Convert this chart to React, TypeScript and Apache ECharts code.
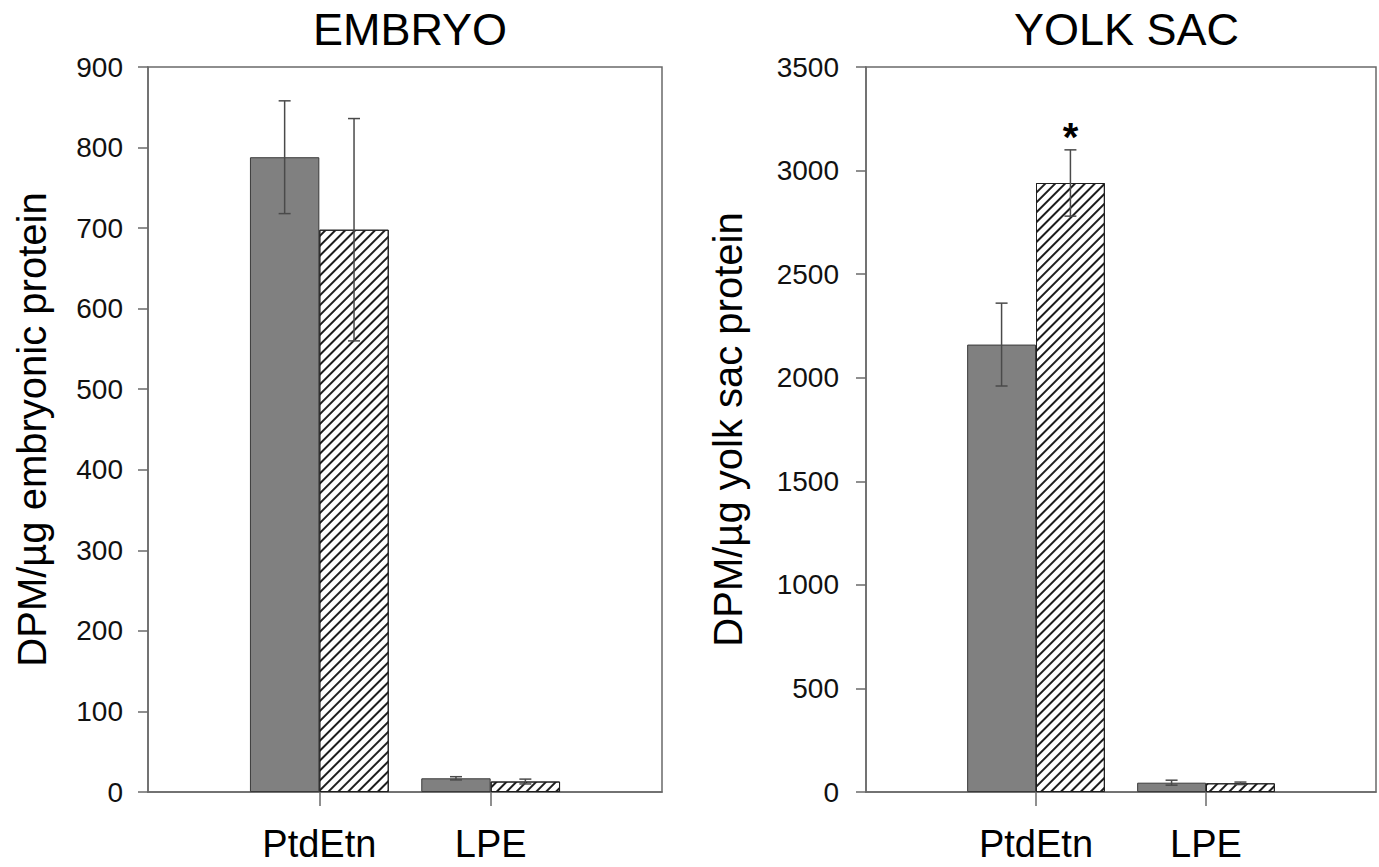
import React, { useEffect, useRef } from "react";
import * as echarts from "echarts";

// ---- data ----
const categories = ["", "PtdEtn", "LPE", ""];
const embryoControl = [null, 788, 17, null];
const embryoControlErr = [null, 70, 2, null];
const embryoTreated = [null, 698, 13, null];
const embryoTreatedErr = [null, 138, 3, null];
const yolkControl = [null, 2160, 45, null];
const yolkControlErr = [null, 200, 12, null];
const yolkTreated = [null, 2940, 42, null];
const yolkTreatedErr = [null, 160, 6, null];
const yolkTreatedSignif = ["", "*", "", ""];

const titles = ["EMBRYO", "YOLK SAC"];
const yNames = ["DPM/µg embryonic protein", "DPM/µg yolk sac protein"];
const yMax = [900, 3500];
const yStep = [100, 500];

const FONT = "'Liberation Sans', Arial, Helvetica, sans-serif";
const BAR_FRAC = 0.405;
const AXIS_COLOR = "#6a6a6a";

function errorSeries(
  gridIdx: number,
  means: (number | null)[],
  errs: (number | null)[],
  side: number,
  marks?: string[]
) {
  const data = means
    .map((m, i) => [i, m, errs[i]])
    .filter((d) => d[1] != null);
  return {
    type: "custom",
    xAxisIndex: gridIdx,
    yAxisIndex: gridIdx,
    data,
    z: 5,
    renderItem: (params: any, api: any) => {
      const i = api.value(0);
      const m = api.value(1);
      const e = api.value(2);
      const bw = api.size([1, 0])[0] * BAR_FRAC;
      const top = api.coord([i, m + e]);
      const bot = api.coord([i, m - e]);
      const x = top[0] + (side * bw) / 2;
      const cap = 6;
      const style = { stroke: "#4a4a4a", lineWidth: 1.5 };
      const children: any[] = [
        { type: "line", shape: { x1: x, y1: top[1], x2: x, y2: bot[1] }, style },
        { type: "line", shape: { x1: x - cap, y1: top[1], x2: x + cap, y2: top[1] }, style },
        { type: "line", shape: { x1: x - cap, y1: bot[1], x2: x + cap, y2: bot[1] }, style },
      ];
      const mk = marks ? marks[i] : "";
      if (mk) {
        children.push({
          type: "text",
          x: x,
          y: top[1] + 7,
          style: {
            text: mk,
            fill: "#000",
            font: `bold 40px ${FONT}`,
            textAlign: "center",
            textVerticalAlign: "bottom",
          },
        });
      }
      return { type: "group", children };
    },
  };
}

function barSeries(gridIdx: number, values: (number | null)[], hatched: boolean) {
  return {
    type: "bar",
    xAxisIndex: gridIdx,
    yAxisIndex: gridIdx,
    data: values.map((v) => (v == null ? "-" : v)),
    barWidth: `${BAR_FRAC * 100}%`,
    barGap: "0%",
    itemStyle: hatched
      ? {
          color: "#ffffff",
          borderColor: "#1e1e1e",
          borderWidth: 1,
          decal: {
            symbol: "rect",
            symbolSize: 1,
            dashArrayX: [1, 0],
            dashArrayY: [1.3, 4.2],
            rotation: -Math.PI / 4,
            color: "#1e1e1e",
          },
        }
      : { color: "#808080", borderColor: "#3a3a3a", borderWidth: 1 },
  };
}

export default function App() {
  const ref = useRef<HTMLDivElement>(null);
  useEffect(() => {
    if (!ref.current) return;
    const chart = echarts.init(ref.current, undefined, { renderer: "svg" });
    const grids = [
      { left: 148, top: 67, width: 514, height: 725 },
      { left: 866, top: 67, width: 511, height: 725 },
    ];
    const nameGaps = [96, 118];
    const labelMargins = [25, 27];
    chart.setOption({
      animation: false,
      backgroundColor: "#ffffff",
      textStyle: { fontFamily: FONT },
      title: titles.map((t, k) => ({
        text: t,
        left: grids[k].left + grids[k].width / 2,
        top: 2,
        textAlign: "center",
        textStyle: { fontFamily: FONT, fontSize: 45, fontWeight: "normal", color: "#000" },
      })),
      grid: grids.map((g) => ({
        ...g,
        show: true,
        borderColor: AXIS_COLOR,
        borderWidth: 1.5,
        backgroundColor: "transparent",
        containLabel: false,
      })),
      xAxis: grids.map((_, k) => ({
        type: "category",
        gridIndex: k,
        data: categories,
        boundaryGap: false,
        axisLine: { show: true, lineStyle: { color: AXIS_COLOR, width: 1.5 } },
        axisTick: {
          show: true,
          interval: (idx: number) => idx === 1 || idx === 2,
          length: 14,
          lineStyle: { color: AXIS_COLOR, width: 1.5 },
        },
        axisLabel: {
          interval: 0,
          fontSize: 38,
          color: "#000",
          fontFamily: FONT,
          margin: 33,
        },
        splitLine: { show: false },
      })),
      yAxis: grids.map((_, k) => ({
        type: "value",
        gridIndex: k,
        min: 0,
        max: yMax[k],
        interval: yStep[k],
        name: yNames[k],
        nameLocation: "middle",
        nameGap: nameGaps[k],
        nameTextStyle: { fontSize: 40, color: "#000", fontFamily: FONT },
        axisLine: { show: true, lineStyle: { color: AXIS_COLOR, width: 1.5 } },
        axisTick: { show: true, inside: false, length: 10, lineStyle: { color: AXIS_COLOR, width: 1.5 } },
        axisLabel: {
          fontSize: 28,
          color: "#111",
          fontFamily: FONT,
          margin: labelMargins[k],
          formatter: (v: number) => String(v),
        },
        splitLine: { show: false },
      })),
      series: [
        barSeries(0, embryoControl, false),
        barSeries(0, embryoTreated, true),
        barSeries(1, yolkControl, false),
        barSeries(1, yolkTreated, true),
        errorSeries(0, embryoControl, embryoControlErr, -1),
        errorSeries(0, embryoTreated, embryoTreatedErr, 1),
        errorSeries(1, yolkControl, yolkControlErr, -1),
        errorSeries(1, yolkTreated, yolkTreatedErr, 1, yolkTreatedSignif),
      ],
    });
    return () => chart.dispose();
  }, []);
  return (
    <div
      ref={ref}
      style={{ position: "fixed", left: 0, top: 0, width: 1379, height: 867, background: "#fff" }}
    />
  );
}
